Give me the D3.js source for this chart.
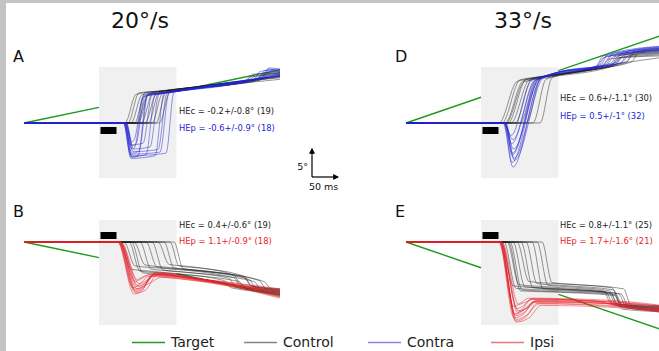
<!DOCTYPE html>
<html><head><meta charset="utf-8">
<script src="https://cdn.jsdelivr.net/npm/d3@7/dist/d3.min.js"></script>
<style>body{margin:0;background:#fff} svg{display:block;font-family:"DejaVu Sans",sans-serif}</style>
</head><body><svg id="c" width="659" height="351"></svg>
<script>
// ---------- DATA (time in ms from target onset, eye position in degrees) ----------
const speedTitles = ["20°/s", "33°/s"];
const panelLetters = ["A", "B", "D", "E"];
const legendLabels = ["Target", "Control", "Contra", "Ipsi"];
const blankWindow = [150, 305];      // target blanked (grey area)
const perturbWindow = [153, 185];    // black bar
const scaleBarLabels = ["5°", "50 ms"];
const scaleBarValues = [5, 50];

const statsA = ["HEc = -0.2+/-0.8° (19)", "HEp = -0.6+/-0.9° (18)"];
const statsB = ["HEc = 0.4+/-0.6° (19)", "HEp = 1.1+/-0.9° (18)"];
const statsD = ["HEc = 0.6+/-1.1° (30)", "HEp = 0.5+/-1° (32)"];
const statsE = ["HEc = 0.8+/-1.1° (25)", "HEp = 1.7+/-1.6° (21)"];

const targetA = [[[0,0],[150,3.0]], [[305,6.1],[512,10.24]]];
const targetB = [[[0,0],[150,-3.0]], [[305,-6.1],[512,-10.24]]];
const targetD = [[[0,0],[150,4.95]], [[305,10.07],[512,16.9]]];
const targetE = [[[0,0],[150,-4.95]], [[305,-10.07],[512,-16.9]]];

const A_control = [
 [[0,0],[202,0],[224,5.5],[262,6.0],[400,7.6],[468,8.5],[482,9.6],[512,9.9]],
 [[0,0],[208,0],[230,5.8],[282,6.2],[420,7.9],[512,9.0]],
 [[0,0],[214,0],[236,5.4],[300,6.4],[440,8.0],[454,8.9],[512,9.3]],
 [[0,0],[221,0],[243,5.9],[302,6.3],[450,8.2],[512,9.1]],
 [[0,0],[228,0],[250,5.6],[320,6.6],[460,8.0],[474,9.2],[512,9.5]],
 [[0,0],[235,0],[257,5.8],[330,6.8],[480,8.5],[512,8.8]],
 [[0,0],[242,0],[264,5.5],[332,6.6],[446,7.9],[460,8.9],[512,9.6]],
 [[0,0],[249,0],[270,5.9],[340,6.9],[490,8.6],[512,9.1]],
 [[0,0],[256,0],[277,5.7],[350,7.0],[470,8.2],[484,9.4],[512,9.7]],
 [[0,0],[264,0],[284,6.0],[360,7.1],[512,8.7]],
 [[0,0],[271,0],[291,5.8],[370,7.2],[498,8.9],[512,9.2]],
 [[0,0],[225,0],[247,5.3],[312,6.2],[430,7.6],[512,8.4]]
];
const A_contra = [
 [[0,0],[200,0],[214,-6.5],[244,-6.1],[262,5.4],[300,6.1],[420,7.8],[476,8.8],[488,10.4],[512,10.0]],
 [[0,0],[202,0],[216,-5.8],[230,-5.4],[248,5.6],[290,6.0],[430,8.0],[512,9.4]],
 [[0,0],[203,0],[216,-5.0],[221,-4.7],[240,5.3],[280,5.9],[440,8.2],[512,9.0]],
 [[0,0],[199,0],[214,-6.8],[262,-6.3],[280,5.7],[320,6.3],[460,8.4],[472,9.9],[512,10.4]],
 [[0,0],[204,0],[217,-4.4],[224,-4.0],[242,5.2],[285,5.8],[450,8.3],[512,8.9]],
 [[0,0],[199,0],[213,-6.0],[272,-5.6],[290,5.8],[330,6.4],[470,8.6],[482,10.1],[512,9.8]],
 [[0,0],[203,0],[215,-3.6],[220,-3.3],[238,5.0],[280,5.7],[500,9.0],[512,9.2]],
 [[0,0],[201,0],[215,-6.3],[284,-5.8],[300,5.9],[340,6.6],[480,8.7],[490,10.6],[512,10.3]],
 [[0,0],[205,0],[219,-5.0],[252,-4.6],[270,5.5],[310,6.2],[455,8.3],[512,9.6]],
 [[0,0],[200,0],[213,-4.2],[238,-3.9],[256,5.4],[300,6.0],[445,8.1],[458,9.4],[512,9.7]],
 [[0,0],[202,0],[216,-6.6],[228,-6.3],[246,5.3],[290,6.0],[470,8.5],[512,9.3]],
 [[0,0],[204,0],[218,-5.5],[268,-5.1],[286,5.7],[325,6.3],[485,8.9],[495,10.2],[512,10.0]]
];
const D_control = [
 [[0,0],[186,0],[222,8.0],[262,8.7],[380,10.8],[396,12.6],[512,14.0]],
 [[0,0],[192,0],[228,8.3],[272,8.9],[400,11.0],[416,12.8],[512,13.8]],
 [[0,0],[198,0],[234,8.1],[282,8.9],[410,11.2],[426,13.0],[512,13.4]],
 [[0,0],[204,0],[240,8.4],[292,9.2],[390,10.9],[406,12.3],[512,13.1]],
 [[0,0],[210,0],[246,8.2],[302,9.3],[420,11.3],[436,13.1],[512,14.2]],
 [[0,0],[218,0],[252,8.5],[312,9.5],[430,11.5],[446,13.0],[512,13.6]],
 [[0,0],[228,0],[260,8.3],[322,9.6],[440,11.6],[456,13.4],[512,14.4]],
 [[0,0],[240,0],[270,8.6],[332,9.8],[410,10.9],[426,12.5],[512,12.9]],
 [[0,0],[254,0],[280,8.4],[342,9.9],[450,11.7],[466,13.5],[512,13.9]],
 [[0,0],[268,0],[292,8.7],[352,10.1],[512,12.6]],
 [[0,0],[200,0],[236,7.9],[288,8.8],[415,11.0],[432,12.7],[512,13.3]]
];
const D_contra = [
 [[0,0],[194,0],[214,-8.5],[268,8.4],[292,9.4],[390,11.2],[404,13.2],[512,14.8]],
 [[0,0],[196,0],[212,-7.6],[264,8.2],[288,9.2],[400,11.3],[414,13.4],[512,14.4]],
 [[0,0],[195,0],[216,-6.8],[270,8.6],[294,9.5],[420,11.6],[434,13.6],[512,14.6]],
 [[0,0],[198,0],[213,-5.8],[262,8.3],[286,9.1],[380,10.9],[394,12.9],[512,14.0]],
 [[0,0],[197,0],[215,-5.0],[266,8.5],[290,9.4],[410,11.5],[424,13.5],[512,14.3]],
 [[0,0],[199,0],[211,-4.0],[258,8.2],[282,9.0],[430,11.6],[444,13.8],[512,14.7]],
 [[0,0],[195,0],[214,-3.2],[255,8.0],[280,9.1],[395,11.1],[409,13.0],[512,14.1]],
 [[0,0],[200,0],[217,-7.2],[274,8.7],[298,9.6],[440,11.8],[454,13.7],[512,14.5]],
 [[0,0],[196,0],[210,-2.4],[250,8.1],[276,8.9],[385,11.0],[400,12.8],[512,13.7]],
 [[0,0],[198,0],[212,-6.2],[264,8.4],[288,9.3],[415,11.4],[430,13.3],[512,14.2]]
];
const B_control = [
 [[0,0],[192,0],[214,-5.2],[250,-5.6],[400,-7.4],[414,-8.8],[512,-9.8]],
 [[0,0],[200,0],[222,-4.6],[270,-5.0],[420,-6.9],[434,-8.6],[512,-9.4]],
 [[0,0],[210,0],[232,-5.6],[280,-6.0],[430,-7.6],[444,-9.0],[512,-10.1]],
 [[0,0],[220,0],[242,-4.4],[290,-4.9],[440,-6.8],[454,-8.4],[512,-9.0]],
 [[0,0],[232,0],[254,-5.2],[300,-5.6],[410,-7.0],[424,-8.7],[512,-9.6]],
 [[0,0],[244,0],[266,-4.8],[310,-5.2],[450,-7.2],[464,-8.9],[512,-9.3]],
 [[0,0],[256,0],[278,-5.4],[320,-5.8],[460,-7.6],[474,-9.2],[512,-9.9]],
 [[0,0],[268,0],[290,-4.3],[330,-4.7],[420,-6.4],[434,-8.2],[512,-9.1]],
 [[0,0],[280,0],[300,-5.0],[340,-5.4],[470,-7.4],[484,-9.0],[512,-9.5]],
 [[0,0],[292,0],[310,-4.6],[350,-5.0],[440,-6.6],[456,-8.5],[512,-9.2]],
 [[0,0],[300,0],[318,-5.1],[360,-5.6],[480,-7.6],[494,-9.1],[512,-9.7]],
 [[0,0],[215,0],[237,-5.9],[285,-6.3],[512,-9.9]]
];
const B_ipsi = [
 [[0,0],[188,0],[222,-9.6],[238,-9.0],[258,-6.2],[340,-7.0],[512,-10.2]],
 [[0,0],[190,0],[226,-9.0],[242,-8.2],[262,-6.0],[360,-7.2],[512,-9.8]],
 [[0,0],[187,0],[220,-10.0],[236,-9.4],[254,-6.5],[330,-7.1],[512,-10.6]],
 [[0,0],[192,0],[228,-8.4],[246,-7.6],[264,-5.8],[370,-7.4],[512,-9.6]],
 [[0,0],[189,0],[224,-9.3],[240,-8.6],[260,-6.4],[350,-7.3],[512,-10.0]],
 [[0,0],[194,0],[230,-8.0],[248,-7.2],[268,-6.1],[380,-7.8],[512,-10.4]],
 [[0,0],[188,0],[218,-8.8],[232,-8.0],[250,-6.6],[320,-7.2],[512,-9.4]],
 [[0,0],[191,0],[225,-9.8],[244,-9.2],[266,-6.3],[360,-7.5],[512,-10.8]],
 [[0,0],[190,0],[222,-7.6],[236,-7.0],[252,-6.2],[340,-7.0],[512,-9.2]],
 [[0,0],[193,0],[227,-8.6],[244,-7.8],[262,-6.0],[300,-6.4],[512,-9.9]],
 [[0,0],[189,0],[221,-9.1],[250,-8.0],[275,-6.8],[380,-8.0],[512,-10.5]],
 [[0,0],[192,0],[226,-7.2],[240,-6.6],[256,-6.3],[350,-7.1],[512,-9.0]]
];
const E_control = [
 [[0,0],[190,0],[214,-8.4],[260,-8.8],[400,-9.6],[414,-12.0],[512,-12.8]],
 [[0,0],[196,0],[220,-8.9],[270,-9.2],[410,-9.9],[424,-12.3],[512,-13.0]],
 [[0,0],[202,0],[226,-8.2],[280,-8.6],[395,-9.4],[410,-11.8],[512,-12.4]],
 [[0,0],[208,0],[232,-9.2],[290,-9.5],[420,-10.1],[434,-12.6],[512,-13.2]],
 [[0,0],[214,0],[238,-8.6],[296,-8.9],[405,-9.7],[420,-12.1],[512,-12.7]],
 [[0,0],[222,0],[246,-7.6],[300,-8.0],[412,-8.8],[426,-11.6],[512,-12.3]],
 [[0,0],[230,0],[254,-8.8],[310,-9.1],[425,-9.9],[440,-12.4],[512,-13.1]],
 [[0,0],[240,0],[262,-8.0],[320,-8.4],[415,-9.2],[430,-12.0],[512,-12.6]],
 [[0,0],[252,0],[274,-9.0],[330,-9.3],[430,-10.0],[446,-12.7],[512,-13.3]],
 [[0,0],[262,0],[284,-8.3],[340,-8.7],[408,-9.4],[422,-11.9],[512,-12.5]],
 [[0,0],[272,0],[292,-7.8],[345,-8.2],[435,-9.0],[450,-12.2],[512,-12.9]],
 [[0,0],[205,0],[229,-9.4],[285,-9.6],[418,-10.3],[432,-12.9],[512,-13.4]]
];
const E_ipsi = [
 [[0,0],[186,0],[216,-14.6],[236,-13.8],[256,-11.4],[400,-11.8],[440,-12.6],[512,-13.0]],
 [[0,0],[188,0],[218,-13.8],[232,-13.0],[250,-11.0],[420,-11.6],[512,-12.4]],
 [[0,0],[187,0],[220,-15.2],[240,-14.4],[262,-11.8],[410,-12.2],[512,-13.4]],
 [[0,0],[190,0],[222,-12.8],[236,-12.2],[252,-10.9],[380,-11.4],[430,-12.4],[512,-12.8]],
 [[0,0],[189,0],[219,-14.2],[238,-13.4],[258,-11.5],[440,-12.0],[512,-12.9]],
 [[0,0],[191,0],[224,-13.2],[244,-12.6],[264,-11.2],[400,-11.5],[460,-12.6],[512,-13.2]],
 [[0,0],[186,0],[215,-12.4],[228,-11.8],[246,-10.8],[420,-11.3],[512,-12.2]],
 [[0,0],[188,0],[221,-14.9],[242,-14.0],[266,-11.9],[430,-12.5],[512,-13.6]],
 [[0,0],[190,0],[223,-13.5],[240,-12.8],[260,-11.3],[390,-11.6],[470,-12.8],[512,-13.0]],
 [[0,0],[187,0],[217,-14.0],[234,-13.2],[254,-11.6],[415,-11.9],[512,-12.7]],
 [[0,0],[192,0],[225,-12.0],[238,-11.6],[256,-11.0],[405,-11.4],[512,-12.3]],
 [[0,0],[189,0],[220,-15.4],[246,-14.6],[270,-12.2],[420,-12.6],[512,-13.5]]
];

// ---------- STYLE / LAYOUT ----------
const col = {target:"#1e9a1e", control:"#1a1a1a", contra:"#2424d4", ipsi:"#e61e28",
             lgTarget:"#2a9a2a", lgControl:"#858585", lgContra:"#8585e2", lgIpsi:"#e57480"};
const W = 659, H = 351;
const svg = d3.select("#c");
svg.append("rect").attr("width", W).attr("height", H).attr("fill", "#c4c4c4");
svg.append("rect").attr("x", 6).attr("y", 3).attr("width", W - 6).attr("height", H - 3).attr("fill", "#fff");

const panels = [
  {letter:panelLetters[0], ox:24, y0:123, top:true, control:A_control, test:A_contra, testCol:col.contra, target:targetA, stats:statsA, sx:179, sy:[114,131]},
  {letter:panelLetters[1], ox:24, y0:242, top:false, control:B_control, test:B_ipsi, testCol:col.ipsi, target:targetB, stats:statsB, sx:179, sy:[228,244]},
  {letter:panelLetters[2], ox:406, y0:123, top:true, control:D_control, test:D_contra, testCol:col.contra, target:targetD, stats:statsD, sx:560, sy:[101,119]},
  {letter:panelLetters[3], ox:406, y0:242, top:false, control:E_control, test:E_ipsi, testCol:col.ipsi, target:targetE, stats:statsE, sx:560, sy:[228,244]}
];

const pxPerMs = 0.5, pxPerDeg = 5.2;

panels.forEach(p => {
  const x = d3.scaleLinear().domain([0, 512]).range([p.ox, p.ox + 512 * pxPerMs]);
  const y = d3.scaleLinear().domain([-20, 20]).range([p.y0 + 20 * pxPerDeg, p.y0 - 20 * pxPerDeg]);
  const g = svg.append("g");
  const line = d3.line().x(d => x(d[0])).y(d => y(d[1])).curve(d3.curveMonotoneX);

  // letter
  g.append("text").attr("x", p.ox - 11).attr("y", p.top ? 62 : 217)
    .attr("font-size", 16).attr("fill", "#111").text(p.letter);

  // grey blank area
  const gTop = p.top ? p.y0 - 56 : p.y0 - 22;
  const gBot = p.top ? p.y0 + 55 : p.y0 + 83;
  g.append("rect").attr("x", x(blankWindow[0])).attr("y", gTop)
    .attr("width", x(blankWindow[1]) - x(blankWindow[0])).attr("height", gBot - gTop)
    .attr("fill", "#f0f0f0");

  // black bar (perturbation)
  g.append("rect").attr("x", x(perturbWindow[0])).attr("y", p.top ? p.y0 + 4 : p.y0 - 10)
    .attr("width", x(perturbWindow[1]) - x(perturbWindow[0])).attr("height", 7).attr("fill", "#000");

  // target
  p.target.forEach(seg => g.append("path").attr("d", line.curve(d3.curveLinear)(seg))
    .attr("fill", "none").attr("stroke", col.target).attr("stroke-width", 1.4));
  line.curve(d3.curveMonotoneX);

  // control traces
  g.selectAll("path.ctl").data(p.control).join("path").attr("class", "ctl")
    .attr("d", line).attr("fill", "none").attr("stroke", col.control)
    .attr("stroke-width", 0.65).attr("stroke-opacity", 0.7);
  // test traces
  g.selectAll("path.tst").data(p.test).join("path").attr("class", "tst")
    .attr("d", line).attr("fill", "none").attr("stroke", p.testCol)
    .attr("stroke-width", 0.65).attr("stroke-opacity", 0.75);

  // stats
  g.append("text").attr("x", p.sx).attr("y", p.sy[0]).attr("font-size", 8.4).attr("fill", "#222").text(p.stats[0]);
  g.append("text").attr("x", p.sx).attr("y", p.sy[1]).attr("font-size", 8.4).attr("fill", p.testCol).text(p.stats[1]);
});

// titles
svg.append("text").attr("x", 140).attr("y", 28).attr("text-anchor", "middle").attr("font-size", 22).attr("fill", "#111").text(speedTitles[0]);
svg.append("text").attr("x", 523).attr("y", 28).attr("text-anchor", "middle").attr("font-size", 22).attr("fill", "#111").text(speedTitles[1]);

// scale bar
const defs = svg.append("defs");
defs.append("marker").attr("id", "ah").attr("viewBox", "0 0 10 10").attr("refX", 8).attr("refY", 5)
  .attr("markerWidth", 5).attr("markerHeight", 5).attr("orient", "auto")
  .append("path").attr("d", "M0,0 L10,5 L0,10 z").attr("fill", "#000");
const sbx = 312, sby = 177;
svg.append("line").attr("x1", sbx).attr("y1", sby).attr("x2", sbx).attr("y2", sby - scaleBarValues[0] * pxPerDeg - 2)
  .attr("stroke", "#000").attr("stroke-width", 1.2).attr("marker-end", "url(#ah)");
svg.append("line").attr("x1", sbx).attr("y1", sby).attr("x2", sbx + scaleBarValues[1] * pxPerMs + 1).attr("y2", sby)
  .attr("stroke", "#000").attr("stroke-width", 1.2).attr("marker-end", "url(#ah)");
svg.append("text").attr("x", 308).attr("y", 170).attr("text-anchor", "end").attr("font-size", 9.5).attr("fill", "#111").text(scaleBarLabels[0]);
svg.append("text").attr("x", 309).attr("y", 190).attr("font-size", 9.5).attr("fill", "#111").text(scaleBarLabels[1]);

// legend
const lgX = [132, 244, 368, 491];
const lgCols = [col.lgTarget, col.lgControl, col.lgContra, col.lgIpsi];
legendLabels.forEach((lab, i) => {
  svg.append("line").attr("x1", lgX[i]).attr("x2", lgX[i] + 33).attr("y1", 342.5).attr("y2", 342.5)
    .attr("stroke", lgCols[i]).attr("stroke-width", 1.5);
  svg.append("text").attr("x", lgX[i] + 39).attr("y", 347).attr("font-size", 14).attr("fill", "#222").text(lab);
});
</script></body></html>
